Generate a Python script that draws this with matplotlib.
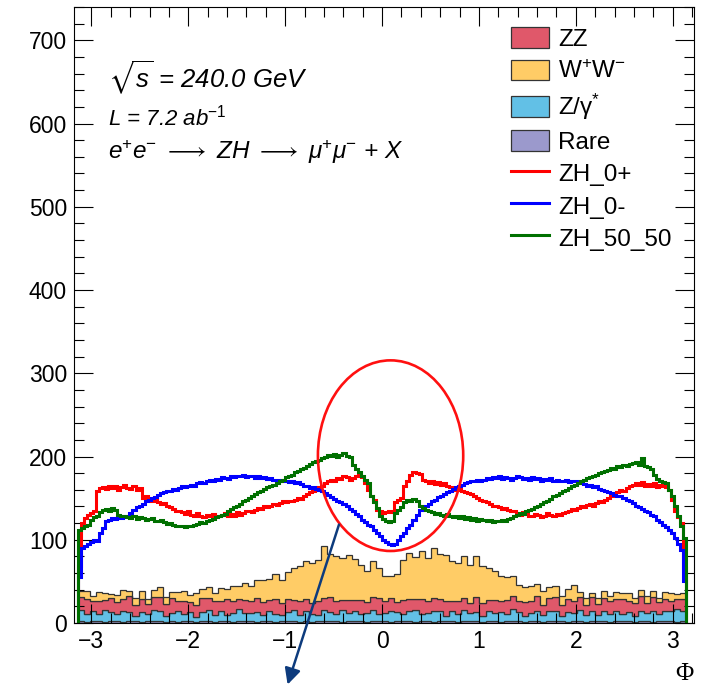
import numpy as np
import matplotlib.pyplot as plt
from matplotlib.patches import Ellipse, FancyArrowPatch
from matplotlib.ticker import MultipleLocator

plt.rcParams["font.family"] = "Liberation Sans"
plt.rcParams["mathtext.fontset"] = "custom"
plt.rcParams["mathtext.rm"] = "Liberation Sans"
plt.rcParams["mathtext.it"] = "Liberation Sans:italic"
plt.rcParams["mathtext.bf"] = "Liberation Sans:bold"
plt.rcParams["mathtext.fallback"] = "stixsans"

# backgrounds: 100 bins in [-pi, pi], signals: 200 bins
rare = [2, 1, 2, 3, 1, 2, 2, 1, 3, 2, 1, 2, 2, 3, 1, 2, 1, 2, 2, 1,
        3, 2, 1, 2, 2, 1, 2, 3, 2, 1, 2, 2, 1, 3, 2, 2, 1, 2, 1, 2,
        3, 2, 2, 1, 2, 2, 3, 1, 2, 2, 2, 1, 2, 3, 2, 1, 2, 2, 1, 3,
        2, 2, 1, 2, 3, 2, 1, 2, 2, 1, 2, 3, 2, 1, 2, 2, 1, 2, 3, 2,
        1, 2, 2, 1, 3, 2, 2, 1, 2, 2, 2, 1, 3, 2, 1, 2, 2, 3, 1, 2]
zgam = [14, 10, 12, 8, 15, 11, 9, 13, 10, 7, 12, 9, 14, 11, 8, 10, 13, 9, 11, 6,
        10, 14, 9, 12, 8, 11, 15, 9, 10, 12, 8, 13, 10, 7, 11, 14, 9, 12, 10, 8,
        13, 11, 9, 15, 10, 12, 8, 11, 14, 9, 10, 13, 11, 8, 12, 15, 9, 10, 13, 11,
        7, 12, 10, 14, 9, 11, 8, 13, 10, 12, 9, 14, 11, 8, 10, 12, 9, 13, 11, 7,
        12, 10, 14, 9, 11, 8, 12, 10, 13, 9, 11, 8, 12, 10, 14, 9, 12, 11, 16, 13]
zz = [15, 18, 13, 16, 12, 17, 14, 15, 19, 13, 16, 12, 15, 17, 14, 18, 13, 16, 12, 15,
      17, 14, 16, 13, 19, 15, 12, 16, 14, 17, 15, 13, 18, 14, 16, 12, 17, 15, 13, 16,
      14, 18, 15, 12, 16, 14, 17, 13, 15, 19, 14, 16, 12, 17, 15, 13, 18, 14, 16, 15,
      17, 13, 16, 14, 12, 18, 15, 13, 16, 14, 17, 15, 13, 16, 14, 18, 12, 15, 17, 13,
      16, 14, 15, 12, 17, 13, 16, 15, 14, 18, 13, 15, 17, 12, 16, 14, 15, 13, 12, 14]
ww = [7, 9, 6, 10, 8, 5, 9, 11, 7, 8, 10, 6, 9, 12, 8, 7,
      10, 12, 9, 14, 11, 13, 10, 15, 12,
      17, 15, 20, 18, 22,
      27, 25, 30, 28, 32,
      38, 42, 45,
      48, 50, 62,
      52, 55, 50, 54, 49,
      42, 38, 44, 36,
      30, 26, 34,
      48, 55, 50, 58, 52, 60, 54, 56,
      48, 45, 50, 46, 49, 44,
      38, 34, 30, 27, 24,
      20, 18, 19, 15, 16, 13, 14, 11, 12, 20,
      6, 8, 5, 7, 9, 6, 8, 7, 10, 6, 8, 9, 7, 5, 8, 9, 6, 7]

zh_0p = [68, 120, 126, 130, 132, 135, 158, 162,
         163, 161, 165, 162, 164, 160, 163, 166, 162, 161, 164, 160, 162,
         150, 152, 148, 147, 149, 145, 143, 144, 140, 139, 137, 135, 134,
         133, 131, 134, 130, 128, 132, 129, 127, 130, 128, 131, 127, 129,
         130, 132, 128, 131, 129, 133, 130, 132, 134,
         135, 133, 136, 138, 137, 140, 139, 141, 143, 142, 144, 146, 145, 147, 146, 148, 150, 149,
         152, 155, 157, 159, 160, 163, 165,
         168, 170, 172, 171, 174, 173, 176, 175, 172, 174, 177, 178, 175,
         168, 160, 152, 148,
         136, 134, 132, 133, 135, 133,
         145, 148, 150,
         165, 170,
         178, 181, 180, 179,
         172, 170, 168, 170, 167, 169, 166, 168, 165,
         163, 162, 160, 161, 158, 157, 156, 155,
         152, 150, 148, 146, 145, 143, 141, 140, 139, 137, 138, 136, 135,
         134, 132, 130, 133, 131, 129, 128, 131, 130, 127, 129, 132, 130, 128, 131, 130, 132, 133,
         135, 137, 136, 138, 140, 139, 142, 143, 141, 144, 146, 145, 148, 150, 152,
         155, 157, 160, 158, 162, 164, 166,
         168, 166, 169, 165, 167, 164, 168, 163, 166, 165, 163,
         160, 148, 135, 127,
         120, 66]
zh_0m = [55, 90, 92, 95, 97, 100, 99, 108, 114, 122,
         124, 126, 125, 127, 126, 128, 127,
         132, 136, 139, 141, 143, 146, 148, 150, 151,
         154, 156, 157, 159, 158, 161, 160, 162, 164, 163, 165, 166, 165, 168, 169,
         168, 170, 172, 171, 173, 172, 175, 174, 173, 176, 175, 177, 176, 178, 175, 177, 176, 174,
         176, 174, 175, 173, 174, 172, 171, 172, 170, 171, 169, 170, 168, 169, 167,
         165, 164, 162, 163, 161, 160, 159,
         156, 154, 151, 149, 147, 145, 143,
         140, 137, 134, 131, 128, 124, 121, 118, 116,
         112, 108, 104, 100, 97, 95, 94, 95,
         100, 104, 108, 114, 118, 124, 130, 136,
         139, 141, 143, 146, 148, 151, 153, 155, 157, 159, 161, 163,
         165, 166, 168, 169, 170, 171, 172, 170,
         172, 174, 173, 175, 174, 176, 173, 175, 174, 172, 174, 176, 175, 173, 174, 172, 175,
         173, 174, 171, 173, 172, 174, 171, 172, 170, 171, 172, 169, 170, 171, 168, 169,
         167, 165, 166, 163, 164, 161, 160, 158, 157, 156,
         154, 152, 153, 150, 148, 147, 144, 141, 139,
         137, 135, 133, 130, 128, 124, 121, 118, 115,
         112, 108, 102, 95, 88,
         50]
zh_5050 = [112, 114, 116, 118, 124, 127, 129,
           133, 136, 137, 135, 138, 136,
           130, 128, 129, 127, 126, 128, 125, 127, 126, 124, 125, 126, 123, 122, 124, 121, 119, 120, 118, 116, 117,
           116, 115, 117, 116, 118, 119, 121, 120, 122, 124, 125, 127, 128, 130, 131,
           134, 137, 139, 141, 143, 146, 148, 150, 153, 155, 157, 159, 161, 163, 165, 166, 168,
           170, 172, 175, 176, 178, 181, 183, 185, 186, 189, 191, 193, 195, 196,
           198, 200, 202, 201, 203, 200, 202, 204, 201, 199,
           190, 185, 181, 176, 172, 168,
           152, 145, 138,
           128, 125, 122, 121, 123,
           132, 136, 139,
           145, 148, 147, 149, 146,
           140, 138, 136,
           134, 133, 131, 132, 130, 129, 131, 128, 127, 129, 126, 128, 125, 127,
           124, 126, 123, 125, 124, 122, 124, 121, 123, 122, 124, 123, 125, 126,
           128, 130, 132, 131, 134, 136, 137, 139, 141, 143, 145, 147, 149, 152, 154, 156, 158, 160, 162, 164, 166, 168,
           170, 172, 174, 175, 177, 178, 180, 181, 183, 184, 186, 185, 188, 187, 190, 189, 191,
           192, 194, 190, 198, 189, 187, 185,
           178, 173, 170, 169, 168,
           160, 152, 140, 128, 116,
           102]

bkg_labels = ["Rare", "Z/γ$^{*}$", "ZZ", "W$^{+}$W$^{-}$"]
bkg_colors = ["#9b99cc", "#62c0e6", "#e0586a", "#ffcc66"]
sig_labels = ["ZH_0+", "ZH_0-", "ZH_50_50"]
sig_colors = ["#ff0000", "#0000ff", "#007000"]

bkg_edges = np.linspace(-np.pi, np.pi, len(ww) + 1)
sig_edges = np.linspace(-np.pi, np.pi, len(zh_0p) + 1)

fig = plt.figure(figsize=(7.08, 6.90), dpi=100)
ax = fig.add_axes([0.1045, 0.0971, 0.8757, 0.8928])

handles = {}
bottom = np.zeros(len(ww))
for label, vals, col in zip(bkg_labels, [rare, zgam, zz, ww], bkg_colors):
    top = bottom + np.array(vals)
    handles[label] = ax.stairs(top, bkg_edges, baseline=bottom, fill=True,
                               facecolor=col, edgecolor="#333333", lw=0.9, zorder=1)
    bottom = top

for label, vals, col in zip(sig_labels, [zh_0p, zh_0m, zh_5050], sig_colors):
    handles[label] = ax.stairs(vals, sig_edges, baseline=0, fill=False,
                               color=col, lw=2.2, zorder=2)

ax.set_xlim(-3.18, 3.22)
ax.set_ylim(0, 740)
ax.xaxis.set_major_locator(MultipleLocator(1))
ax.xaxis.set_minor_locator(MultipleLocator(0.2))
ax.yaxis.set_major_locator(MultipleLocator(100))
ax.yaxis.set_minor_locator(MultipleLocator(20))
ax.tick_params(which="both", direction="in", top=True, right=True, labelsize=16.5, width=0.8)
ax.tick_params(which="major", length=13.5)
ax.tick_params(which="minor", length=7)
ax.tick_params(axis="x", pad=5)
ax.tick_params(axis="y", pad=5)
for sp in ax.spines.values():
    sp.set_linewidth(0.8)

ax.set_xlabel("Φ", loc="right", fontsize=18, fontfamily="Liberation Serif", labelpad=7)

# texte physique
ax.text(0.055, 0.885, r"$\sqrt{s}$ = 240.0 GeV", transform=ax.transAxes,
        fontsize=18.5, style="italic", va="center")
ax.text(0.055, 0.82, r"L = 7.2 ab$^{\mathit{-1}}$", transform=ax.transAxes,
        fontsize=16, style="italic", va="center")
ax.text(0.055, 0.765, r"e$^{+}$e$^{-}$ $\longrightarrow$ ZH $\longrightarrow$ μ$^{+}$μ$^{-}$ + X",
        transform=ax.transAxes, fontsize=17.5, style="italic", va="center")

order = ["ZZ", "W$^{+}$W$^{-}$", "Z/γ$^{*}$", "Rare"] + sig_labels
ax.legend([handles[k] for k in order], order, loc="upper left",
          bbox_to_anchor=(0.705, 0.967), frameon=False, fontsize=17.5,
          handlelength=1.55, handleheight=0.95, labelspacing=0.345,
          handletextpad=0.4, borderpad=0, borderaxespad=0)

# annotation : ellipse + fleche
ax.add_patch(Ellipse((0.088, 201), width=1.50, height=229, fill=False,
                     edgecolor="#ff1010", lw=1.9, zorder=5))
fig.add_artist(FancyArrowPatch((0.480, 0.2435), (0.405, 0.004),
                               transform=fig.transFigure, arrowstyle="-|>",
                               mutation_scale=24, color="#0d3b7d", lw=1.8))

fig.savefig("out.png", dpi=100)
